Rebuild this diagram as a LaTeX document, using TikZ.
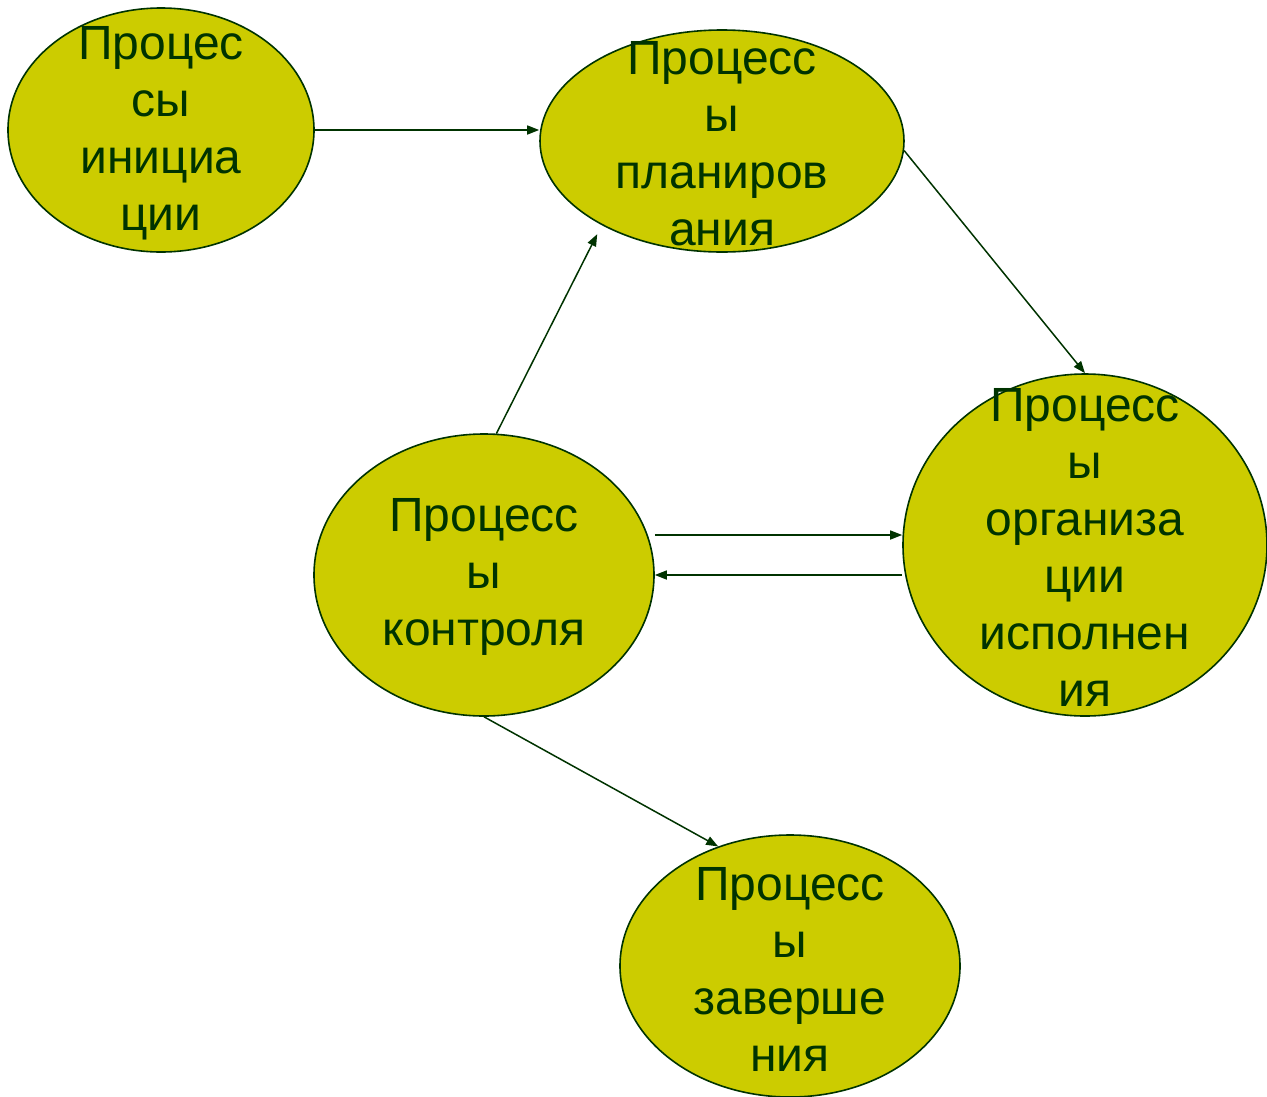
\documentclass[tikz,border=0pt]{standalone}
\usepackage{fontspec}
\setmainfont{Liberation Sans}
\usetikzlibrary{shapes,arrows.meta,positioning}
\definecolor{procfill}{HTML}{CCCC00}
\definecolor{procline}{HTML}{003300}
\tikzstyle{proc} = [ellipse, draw=procline, line width=1.6pt, fill=procfill, inner sep=0pt]
\tikzstyle{proctext} = [align=center, text=procline, font=\fontsize{48}{57}\selectfont]
\tikzstyle{arrow} = [-{Triangle[length=12pt,width=9pt]}, line width=1.5pt, procline]

\begin{document}
\begin{tikzpicture}[x=1pt,y=-1pt]
\useasboundingbox (0,0) rectangle (1267,1096);
% processes
\node[proc, minimum width=306pt, minimum height=244pt] at (161,130) (init) {};
\node[proc, minimum width=364pt, minimum height=222pt] at (722,141) (plan) {};
\node[proc, minimum width=364pt, minimum height=342pt] at (1085,545) (exec) {};
\node[proc, minimum width=340pt, minimum height=282pt] at (484,575) (ctrl) {};
\node[proc, minimum width=340pt, minimum height=262pt] at (790,966) (close) {};
\node[proctext] at (161,133) (initT) {Процес\\сы\\инициа\\ции};
\node[proctext] at (722,144) (planT) {Процесс\\ы\\планиров\\ания};
\node[proctext] at (1085,547) (execT) {Процесс\\ы\\организа\\ции\\исполнен\\ия};
\node[proctext] at (484,577) (ctrlT) {Процесс\\ы\\контроля};
\node[proctext] at (790,969) (closeT) {Процесс\\ы\\заверше\\ния};
% links
\draw[arrow] (init.east) -- (init.east -| plan.west);
\draw[arrow] (plan.-3) -- (exec.north);
\draw[arrow, shorten >=10pt] (ctrl.85) -- (plan.215);
\draw[arrow] ([yshift=40pt]ctrl.east) -- ([yshift=40pt]ctrl.east -| exec.west);
\draw[arrow] ([yshift=-30pt]exec.west) -- (ctrl.east);
\draw[arrow] (ctrl.south) -- (close.121);
\end{tikzpicture}
\end{document}
